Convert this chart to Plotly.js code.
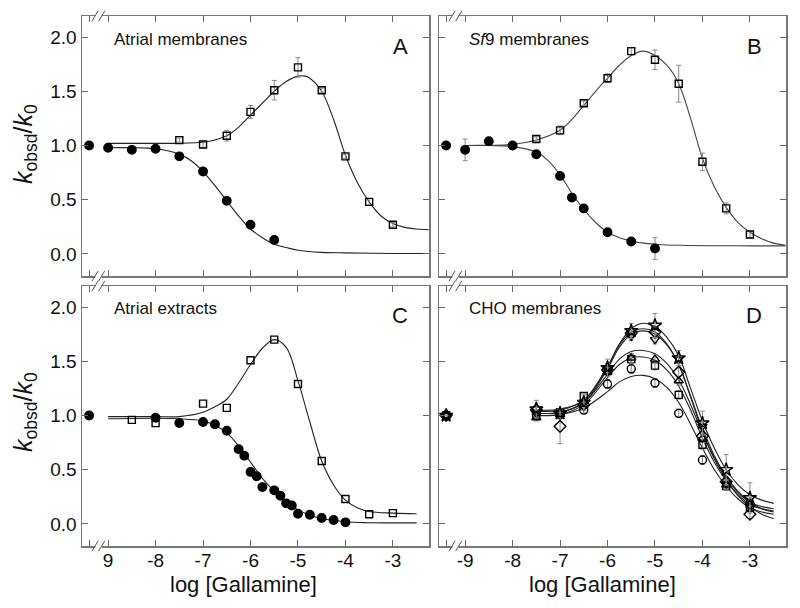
<!DOCTYPE html>
<html><head><meta charset="utf-8">
<script src="https://cdn.plot.ly/plotly-3.0.1.min.js"></script>
<style>html,body{margin:0;padding:0;background:#fff}#chart{width:800px;height:608px}</style>
</head><body><div id="chart"></div>
<script>
// ---------- tick labels ----------
const xTickVals = [-9, -8, -7, -6, -5, -4, -3];
const xControlTick = [-9.4];
const xTickTextC = ['9', '-8', '-7', '-6', '-5', '-4', '-3'];
const xTickTextD = ['-9', '-8', '-7', '-6', '-5', '-4', '-3'];
const yTickVals = [0, 0.5, 1, 1.5, 2];
const yTickText = ['0.0', '0.5', '1.0', '1.5', '2.0'];
const panelNames = ['Atrial membranes', '<i>Sf</i>9 membranes', 'Atrial extracts', 'CHO membranes'];
const panelLetters = ['A', 'B', 'C', 'D'];
const xTitle = 'log [Gallamine]';
const yTitle = '<i>k</i><sub>obsd</sub>/<i>k</i><sub>0</sub>';

// ---------- Panel A: atrial membranes ----------
const aCircX = [-9.4, -9, -8.5, -8, -7.5, -7, -6.5, -6, -5.5];
const aCircY = [1.00, 0.98, 0.96, 0.97, 0.90, 0.76, 0.49, 0.27, 0.13];
const aSqX = [-7.5, -7, -6.5, -6, -5.5, -5, -4.5, -4, -3.5, -3];
const aSqY = [1.05, 1.01, 1.09, 1.31, 1.51, 1.72, 1.51, 0.90, 0.48, 0.27];
const aSqErr = [0.02, 0.03, 0.05, 0.06, 0.09, 0.09, 0.02, 0.02, 0.03, 0.02];
const aFitCircX = [-9, -8.5, -8, -7.5, -7.25, -7, -6.75, -6.5, -6.25, -6, -5.75, -5.5, -5.25, -5, -4.5, -4, -3, -2.25];
const aFitCircY = [0.98, 0.98, 0.97, 0.92, 0.86, 0.76, 0.63, 0.49, 0.35, 0.23, 0.15, 0.09, 0.06, 0.035, 0.015, 0.01, 0.005, 0.005];
const aFitSqX = [-9, -8, -7.5, -7, -6.75, -6.5, -6.25, -6, -5.75, -5.5, -5.25, -5, -4.85, -4.75, -4.5, -4.25, -4, -3.75, -3.5, -3.25, -3, -2.75, -2.5, -2.25];
const aFitSqY = [1.02, 1.02, 1.02, 1.03, 1.05, 1.09, 1.17, 1.28, 1.39, 1.50, 1.59, 1.64, 1.64, 1.62, 1.50, 1.24, 0.91, 0.66, 0.48, 0.35, 0.28, 0.245, 0.23, 0.225];

// ---------- Panel B: Sf9 membranes ----------
const bCircX = [-9.4, -9, -8.5, -8, -7.5, -7, -6.75, -6.5, -6, -5.5, -5];
const bCircY = [1.00, 0.96, 1.04, 1.00, 0.92, 0.72, 0.52, 0.42, 0.20, 0.115, 0.05];
const bCircErr = [0, 0.10, 0, 0, 0, 0, 0, 0, 0, 0, 0.10];
const bSqX = [-7.5, -7, -6.5, -6, -5.5, -5, -4.5, -4, -3.5, -3];
const bSqY = [1.06, 1.14, 1.39, 1.62, 1.87, 1.79, 1.57, 0.85, 0.42, 0.18];
const bSqErr = [0.02, 0.04, 0.02, 0.04, 0.03, 0.09, 0.17, 0.08, 0.05, 0.03];
const bFitCircX = [-9, -8.5, -8, -7.5, -7.25, -7, -6.75, -6.5, -6.25, -6, -5.75, -5.5, -5.25, -5, -4.5, -3, -2.25];
const bFitCircY = [1.00, 1.00, 0.99, 0.94, 0.86, 0.73, 0.56, 0.41, 0.29, 0.20, 0.15, 0.12, 0.10, 0.09, 0.08, 0.075, 0.075];
const bFitSqX = [-9, -8, -7.5, -7, -6.75, -6.5, -6.25, -6, -5.75, -5.5, -5.25, -5, -4.75, -4.5, -4.25, -4, -3.75, -3.5, -3.25, -3, -2.75, -2.5, -2.25];
const bFitSqY = [1.00, 1.01, 1.05, 1.14, 1.24, 1.37, 1.50, 1.62, 1.74, 1.83, 1.87, 1.83, 1.74, 1.57, 1.25, 0.88, 0.62, 0.43, 0.29, 0.20, 0.14, 0.10, 0.08];

// ---------- Panel C: atrial extracts ----------
const cCircX = [-9.4, -8, -7.5, -7, -6.75, -6.5, -6.25, -6.13, -6, -5.87, -5.75, -5.5, -5.37, -5.25, -5.13, -5, -4.75, -4.5, -4.25, -4];
const cCircY = [1.00, 0.98, 0.93, 0.94, 0.92, 0.86, 0.69, 0.63, 0.48, 0.44, 0.34, 0.31, 0.26, 0.19, 0.17, 0.095, 0.085, 0.055, 0.037, 0.015];
const cSqX = [-8.5, -8, -7, -6.5, -6, -5.5, -5, -4.5, -4, -3.5, -3];
const cSqY = [0.96, 0.93, 1.11, 1.07, 1.51, 1.70, 1.29, 0.58, 0.23, 0.09, 0.10];
const cFitCircX = [-9, -8, -7.5, -7, -6.75, -6.5, -6.25, -6, -5.75, -5.5, -5.25, -5, -4.75, -4.5, -4, -3.5, -2.5];
const cFitCircY = [0.97, 0.975, 0.97, 0.95, 0.91, 0.84, 0.72, 0.57, 0.42, 0.30, 0.20, 0.13, 0.08, 0.05, 0.02, 0.012, 0.01];
const cFitSqX = [-9, -8, -7.5, -7, -6.75, -6.5, -6.25, -6, -5.75, -5.5, -5.25, -5, -4.75, -4.5, -4.25, -4, -3.75, -3.5, -3, -2.5];
const cFitSqY = [0.99, 0.99, 0.99, 1.03, 1.08, 1.15, 1.30, 1.47, 1.62, 1.70, 1.63, 1.32, 0.94, 0.58, 0.36, 0.22, 0.15, 0.115, 0.10, 0.095];

// ---------- Panel D: CHO membranes (six series) ----------
const dX = [-9.4, -7.5, -7, -6.5, -6, -5.5, -5, -4.5, -4, -3.5, -3];
const dStarY = [1.00, 1.06, 1.02, 1.12, 1.44, 1.78, 1.83, 1.53, 0.93, 0.50, 0.24];
const dStarErr = [0, 0.08, 0.04, 0.07, 0.08, 0.07, 0.11, 0.07, 0.11, 0.14, 0.14];
const dDiamY = [1.00, 1.05, 0.90, 1.10, 1.42, 1.76, 1.77, 1.40, 0.81, 0.39, 0.09];
const dDiamErr = [0, 0.04, 0.16, 0.04, 0.05, 0.05, 0.05, 0.04, 0.04, 0.04, 0.04];
const dTriDY = [1.00, 1.02, 1.00, 1.12, 1.44, 1.73, 1.70, 1.52, 0.90, 0.37, 0.17];
const dTriUY = [1.00, 0.98, 1.01, 1.13, 1.40, 1.53, 1.52, 1.32, 0.79, 0.36, 0.20];
const dSqY = [1.00, 1.01, 1.03, 1.18, 1.41, 1.52, 1.46, 1.19, 0.73, 0.35, 0.15];
const dCircY = [1.00, 1.05, 1.01, 1.05, 1.29, 1.43, 1.30, 1.02, 0.59, 0.38, 0.17];
const dSmallErr = [0, 0.03, 0.03, 0.03, 0.04, 0.04, 0.04, 0.04, 0.04, 0.04, 0.04];
const dFitX = [-7.5, -7, -6.5, -6, -5.75, -5.5, -5.25, -5, -4.75, -4.5, -4.25, -4, -3.75, -3.5, -3.25, -3, -2.75, -2.5];
const dFitStarY = [1.05, 1.06, 1.14, 1.45, 1.66, 1.80, 1.85, 1.82, 1.72, 1.55, 1.25, 0.95, 0.70, 0.50, 0.36, 0.27, 0.22, 0.19];
const dFitDiamY = [1.04, 1.05, 1.14, 1.45, 1.65, 1.77, 1.80, 1.77, 1.66, 1.47, 1.17, 0.85, 0.60, 0.41, 0.26, 0.16, 0.09, 0.05];
const dFitTriDY = [1.02, 1.03, 1.12, 1.43, 1.63, 1.75, 1.78, 1.75, 1.65, 1.47, 1.18, 0.88, 0.63, 0.44, 0.30, 0.20, 0.14, 0.11];
const dFitTriUY = [1.02, 1.03, 1.12, 1.38, 1.52, 1.59, 1.60, 1.57, 1.48, 1.33, 1.10, 0.84, 0.61, 0.43, 0.29, 0.20, 0.16, 0.14];
const dFitSqY = [1.00, 1.01, 1.10, 1.35, 1.47, 1.53, 1.54, 1.51, 1.42, 1.27, 1.05, 0.79, 0.57, 0.40, 0.27, 0.18, 0.14, 0.12];
const dFitCircY = [1.00, 1.01, 1.07, 1.22, 1.31, 1.36, 1.37, 1.34, 1.26, 1.12, 0.92, 0.70, 0.50, 0.35, 0.23, 0.15, 0.11, 0.09];

// ---------- builders ----------
const LINE_COL = '#222';
function fit(x, y, ax, color) {
  return {x: x, y: y, xaxis: 'x' + ax, yaxis: 'y' + ax, mode: 'lines', type: 'scatter',
    line: {color: color || LINE_COL, width: 1.1, shape: 'spline', smoothing: 1}, hoverinfo: 'skip', showlegend: false};
}
function pts(x, y, ax, symbol, size, err) {
  const t = {x: x, y: y, xaxis: 'x' + ax, yaxis: 'y' + ax, mode: 'markers', type: 'scatter', showlegend: false,
    marker: {symbol: symbol, size: size, color: '#000', line: {color: '#000', width: 1.4}}};
  if (err) t.error_y = {type: 'data', array: err, visible: true, color: '#8a8a8a', thickness: 1, width: 2.5};
  return t;
}
const ax = ['', '2', '3', '4'];
const traces = [
  fit(aFitCircX, aFitCircY, ax[0]), fit(aFitSqX, aFitSqY, ax[0]),
  pts(aSqX, aSqY, ax[0], 'square-open', 7, aSqErr), pts(aCircX, aCircY, ax[0], 'circle', 8.5),
  fit(bFitCircX, bFitCircY, ax[1], '#444'), fit(bFitSqX, bFitSqY, ax[1], '#444'),
  pts(bSqX, bSqY, ax[1], 'square-open', 7, bSqErr), pts(bCircX, bCircY, ax[1], 'circle', 8.5, bCircErr),
  fit(cFitCircX, cFitCircY, ax[2]), fit(cFitSqX, cFitSqY, ax[2]),
  pts(cSqX, cSqY, ax[2], 'square-open', 7), pts(cCircX, cCircY, ax[2], 'circle', 8.5),
  fit(dFitX, dFitStarY, ax[3]), fit(dFitX, dFitDiamY, ax[3]), fit(dFitX, dFitTriDY, ax[3]),
  fit(dFitX, dFitTriUY, ax[3]), fit(dFitX, dFitSqY, ax[3]), fit(dFitX, dFitCircY, ax[3]),
  pts(dX, dCircY, ax[3], 'circle-open', 8, dSmallErr), pts(dX, dSqY, ax[3], 'square-open', 7, dSmallErr),
  pts(dX, dTriUY, ax[3], 'triangle-up-open', 8, dSmallErr), pts(dX, dTriDY, ax[3], 'triangle-down-open', 8, dSmallErr),
  pts(dX, dDiamY, ax[3], 'diamond-open', 9, dDiamErr), pts(dX, dStarY, ax[3], 'star-open', 10, dStarErr)
];

// ---------- layout ----------
const W = 800, H = 608;
const colDom = [[82 / W, 429 / W], [439 / W, 786 / W]];
const rowDom = [[1 - 276 / H, 1 - 16 / H], [1 - 546 / H, 1 - 286 / H]];
const FONT = 'Liberation Sans, Arial, sans-serif';
function xa(i, labels) {
  const o = {domain: colDom[i % 2], anchor: 'y' + ax[i], range: [-9.55, -2.24], tickmode: 'array', tickvals: xTickVals,
    showticklabels: !!labels, ticks: 'inside', ticklen: 6, tickwidth: 1, tickcolor: '#666',
    minor: {tickmode: 'array', tickvals: xControlTick, ticks: 'inside', ticklen: 6, tickwidth: 1, tickcolor: '#666', showgrid: false},
    showline: true, linecolor: '#777', linewidth: 1.5, mirror: 'ticks', showgrid: false, zeroline: false, automargin: false,
    tickfont: {family: FONT, size: 19, color: '#111'}};
  if (labels) { o.ticktext = labels; o.ticklabelstandoff = -3; }
  return o;
}
function ya(i) {
  return {domain: rowDom[Math.floor(i / 2)], anchor: 'x' + ax[i], range: [-0.203, 2.194], tickmode: 'array', tickvals: yTickVals,
    ticktext: yTickText, showticklabels: i % 2 === 0, ticks: 'inside', ticklen: 6, tickwidth: 1, tickcolor: '#666',
    showline: true, linecolor: '#777', linewidth: 1.5, mirror: 'ticks', showgrid: false, zeroline: false, automargin: false,
    tickfont: {family: FONT, size: 19, color: '#111'}};
}
const layout = {
  width: W, height: H, margin: {l: 0, r: 0, t: 0, b: 0}, paper_bgcolor: '#fff', plot_bgcolor: '#fff',
  showlegend: false, font: {family: FONT, color: '#111'},
  xaxis: xa(0), yaxis: ya(0), xaxis2: xa(1), yaxis2: ya(1),
  xaxis3: xa(2, xTickTextC), yaxis3: ya(2), xaxis4: xa(3, xTickTextD), yaxis4: ya(3),
  annotations: [], shapes: []
};
// panel texts
const nameX = [112, 467];
const rowY = [40, 308];
for (let i = 0; i < 4; i++) {
  const c = i % 2, r = Math.floor(i / 2);
  layout.annotations.push({xref: 'paper', yref: 'paper', x: nameX[c] / W, y: 1 - rowY[r] / H, xanchor: 'left', yanchor: 'middle',
    text: panelNames[i], showarrow: false, font: {family: FONT, size: 17, color: '#111'}});
  layout.annotations.push({xref: 'paper', yref: 'paper', x: (c ? 754 : 400) / W, y: 1 - (rowY[r] + 7) / H, xanchor: 'center', yanchor: 'middle',
    text: panelLetters[i], showarrow: false, font: {family: FONT, size: 22, color: '#111'}});
  // axis break marks, bottom and top
  [0, 1].forEach(function (yy) {
    const xr = 'x' + ax[i], yr = 'y' + ax[i] + ' domain';
    layout.shapes.push({type: 'rect', xref: xr, yref: yr, x0: -9.27, x1: -9.13, y0: yy - 0.012, y1: yy + 0.012,
      line: {width: 0}, fillcolor: '#fff', layer: 'above'});
    layout.shapes.push({type: 'line', xref: xr, yref: yr, x0: -9.34, x1: -9.21, y0: yy - 0.02, y1: yy + 0.02,
      line: {color: '#555', width: 1}, layer: 'above'});
    layout.shapes.push({type: 'line', xref: xr, yref: yr, x0: -9.20, x1: -9.07, y0: yy - 0.02, y1: yy + 0.02,
      line: {color: '#555', width: 1}, layer: 'above'});
  });
}
// axis titles
[144, 412].forEach(function (py) {
  layout.annotations.push({xref: 'paper', yref: 'paper', x: 25 / W, y: 1 - py / H, xanchor: 'center', yanchor: 'middle',
    textangle: -90, text: yTitle, showarrow: false, font: {family: FONT, size: 25, color: '#111'}});
});
[243, 602].forEach(function (px) {
  layout.annotations.push({xref: 'paper', yref: 'paper', x: px / W, y: 1 - 584 / H, xanchor: 'center', yanchor: 'middle',
    text: xTitle, showarrow: false, font: {family: FONT, size: 22, color: '#111'}});
});

Plotly.newPlot('chart', traces, layout, {staticPlot: true, displayModeBar: false});
</script>
</body></html>
